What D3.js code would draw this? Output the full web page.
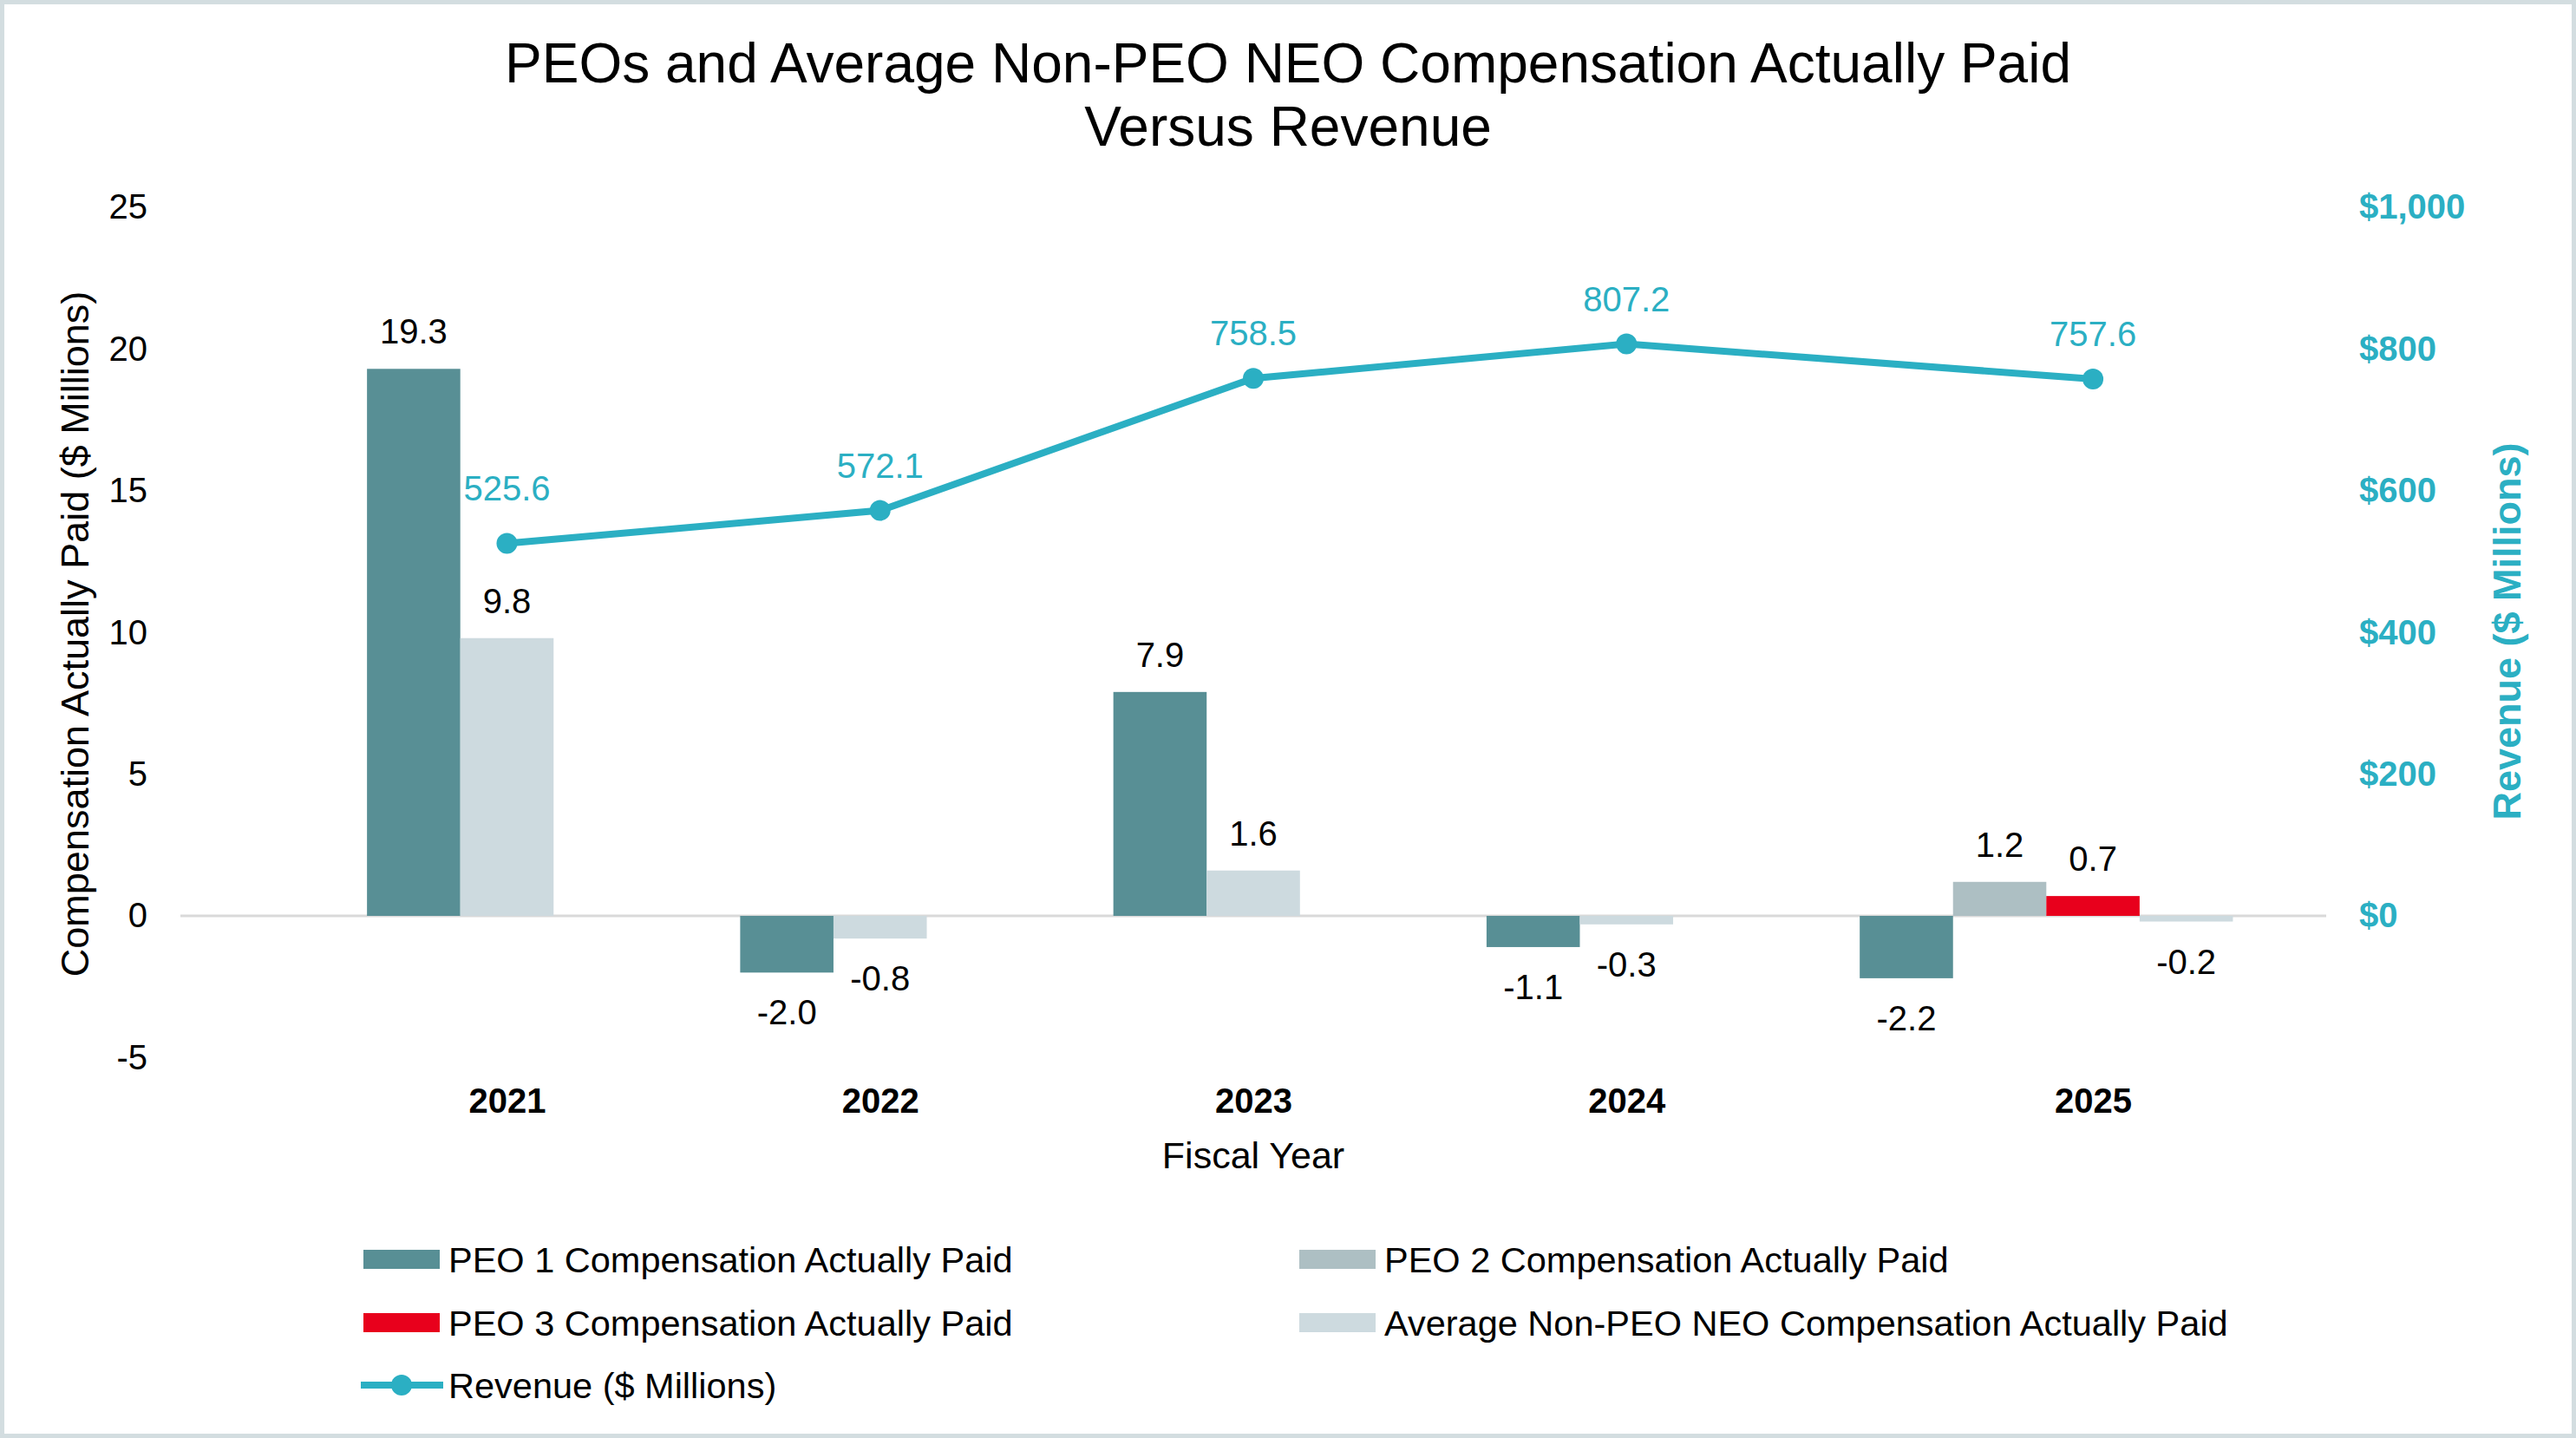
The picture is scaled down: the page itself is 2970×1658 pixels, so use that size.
<!DOCTYPE html>
<html>
<head>
<meta charset="utf-8">
<script src="https://cdn.jsdelivr.net/npm/d3@7"></script>
<style>
    body { margin: 0; background: #fff; }
    text { font-family: "Liberation Sans", Arial, sans-serif; }
</style>
</head>
<body>
<div id="chart"></div>
<script>
// Values
const years = ["2021", "2022", "2023", "2024", "2025"]
const peo1 = [19.3, -2.0, 7.9, -1.1, -2.2]
const peo2 = [null, null, null, null, 1.2]
const peo3 = [null, null, null, null, 0.7]
const nonPeo = [9.8, -0.8, 1.6, -0.3, -0.2]
const revenue = [525.6, 572.1, 758.5, 807.2, 757.6]

const compTicks = [-5, 0, 5, 10, 15, 20, 25]
const revenueTicks = [0, 200, 400, 600, 800, 1000]

const seriesNames = [
    "PEO 1 Compensation Actually Paid",
    "PEO 2 Compensation Actually Paid",
    "PEO 3 Compensation Actually Paid",
    "Average Non-PEO NEO Compensation Actually Paid"
]
const revenueName = "Revenue ($ Millions)"

const colours = ["#588f95", "#adbfc3", "#e8001c", "#cddadf"]
const lineColour = "#2bafc3"

drawChart()

function drawChart() {
    const width = 2970
    const height = 1658
    const left = 208, right = 2682

    const series = [peo1, peo2, peo3, nonPeo]

    let svg = d3.select("#chart")
        .append("svg")
        .attr("width", width)
        .attr("height", height)

    svg.append("rect")
        .attr("x", 2.5).attr("y", 2.5)
        .attr("width", width - 5).attr("height", height - 5)
        .attr("fill", "#fff")
        .attr("stroke", "#d3dde0")
        .attr("stroke-width", 5)

    // each year gets 4 bar slots, starting 2 slots in
    const groupStart = (i) => 2 + 4 * i
    const barsOf = (i) => series.map((s, k) => ({ k: k, v: s[i] })).filter(d => d.v !== null)
    const lastBars = barsOf(years.length - 1).length
    const slots = groupStart(years.length - 1) + lastBars + 1

    const x = d3.scaleLinear().domain([0, slots]).range([left, right])
    const slotW = x(1) - x(0)
    const centre = (i) => x(groupStart(i) + (barsOf(i).length + 1) / 2)

    const y = d3.scaleLinear().domain([-5, 25]).range([1219.4, 239])
    const yRev = d3.scaleLinear().domain([-200, 1000]).range([1219.4, 239])

    // title
    svg.append("text")
        .attr("x", width / 2).attr("y", 95)
        .attr("text-anchor", "middle")
        .style("font-size", "64px")
        .text("PEOs and Average Non-PEO NEO Compensation Actually Paid")
    svg.append("text")
        .attr("x", width / 2).attr("y", 168)
        .attr("text-anchor", "middle")
        .style("font-size", "64px")
        .text("Versus Revenue")

    // left axis
    let yAxis = svg.append("g")
        .attr("transform", "translate(" + left + ",0)")
        .call(d3.axisLeft(y).tickValues(compTicks).tickSize(0).tickPadding(38)
            .tickFormat(d => String(d)))
    yAxis.select(".domain").remove()
    yAxis.selectAll("text").style("font-size", "40px").attr("fill", "#000")
        .style("font-family", "'Liberation Sans', Arial, sans-serif")

    // right axis
    let rAxis = svg.append("g")
        .attr("transform", "translate(" + right + ",0)")
        .call(d3.axisRight(yRev).tickValues(revenueTicks).tickSize(0).tickPadding(38)
            .tickFormat(d => "$" + d3.format(",")(d)))
    rAxis.select(".domain").remove()
    rAxis.selectAll("text").style("font-size", "40px").style("font-weight", "bold")
        .attr("fill", lineColour)
        .style("font-family", "'Liberation Sans', Arial, sans-serif")

    svg.append("text")
        .attr("transform", "translate(86,731) rotate(-90)")
        .attr("text-anchor", "middle")
        .attr("dy", "0.35em")
        .style("font-size", "45px")
        .text("Compensation Actually Paid ($ Millions)")

    svg.append("text")
        .attr("transform", "translate(2890,728) rotate(-90)")
        .attr("text-anchor", "middle")
        .attr("dy", "0.35em")
        .style("font-size", "45px")
        .style("font-weight", "bold")
        .attr("fill", lineColour)
        .text(revenueName)

    // zero line
    svg.append("line")
        .attr("x1", left).attr("x2", right)
        .attr("y1", y(0)).attr("y2", y(0))
        .attr("stroke", "#d9d9d9")
        .attr("stroke-width", 3)

    // bars
    for (let i = 0; i < years.length; i++) {
        let bars = barsOf(i)
        let g = svg.append("g")
        g.selectAll("rect")
            .data(bars)
            .enter()
            .append("rect")
            .attr("x", (d, j) => x(groupStart(i) + j))
            .attr("width", slotW)
            .attr("y", d => y(Math.max(0, d.v)))
            .attr("height", d => Math.abs(y(d.v) - y(0)))
            .attr("fill", d => colours[d.k])

        g.selectAll("text")
            .data(bars)
            .enter()
            .append("text")
            .attr("x", (d, j) => x(groupStart(i) + j) + slotW / 2)
            .attr("y", d => d.v >= 0 ? y(d.v) - 43 : y(d.v) + 46)
            .attr("dy", "0.35em")
            .attr("text-anchor", "middle")
            .style("font-size", "40px")
            .text(d => d.v.toFixed(1))
    }

    // x labels
    const xLabel = d3.scaleOrdinal().domain(years).range(years.map((d, i) => centre(i)))
    let xAxis = svg.append("g")
        .attr("transform", "translate(0,1240)")
        .call(d3.axisBottom(xLabel).tickValues(years).tickSize(0).tickPadding(0))
    xAxis.select(".domain").remove()
    xAxis.selectAll("text")
        .attr("y", 43).attr("dy", "0")
        .style("font-size", "40px").style("font-weight", "bold").attr("fill", "#000")
        .style("font-family", "'Liberation Sans', Arial, sans-serif")

    svg.append("text")
        .attr("x", (left + right) / 2).attr("y", 1332)
        .attr("dy", "0.35em")
        .attr("text-anchor", "middle")
        .style("font-size", "43px")
        .text("Fiscal Year")

    // revenue line
    let line = d3.line()
        .x((d, i) => centre(i))
        .y(d => yRev(d))

    svg.append("path")
        .datum(revenue)
        .attr("d", line)
        .attr("fill", "none")
        .attr("stroke", lineColour)
        .attr("stroke-width", 8)

    svg.selectAll(".dot")
        .data(revenue)
        .enter()
        .append("circle")
        .attr("class", "dot")
        .attr("cx", (d, i) => centre(i))
        .attr("cy", d => yRev(d))
        .attr("r", 12)
        .attr("fill", lineColour)

    // first label sits higher to clear the bar label
    const lift = (i) => i === 0 ? 64 : 52
    svg.selectAll(".revLabel")
        .data(revenue)
        .enter()
        .append("text")
        .attr("class", "revLabel")
        .attr("x", (d, i) => centre(i))
        .attr("y", (d, i) => yRev(d) - lift(i))
        .attr("dy", "0.35em")
        .attr("text-anchor", "middle")
        .style("font-size", "40px")
        .attr("fill", lineColour)
        .text(d => d.toFixed(1))

    // legend
    const legendX = [419, 1498]
    const legendY = [1452, 1525, 1597]
    let legend = svg.append("g")
    seriesNames.forEach((name, k) => {
        let lx = legendX[k % 2]
        let ly = legendY[Math.floor(k / 2)]
        legend.append("rect")
            .attr("x", lx).attr("y", ly - 11)
            .attr("width", 88).attr("height", 22)
            .attr("fill", colours[k])
        legend.append("text")
            .attr("x", lx + 98).attr("y", ly)
            .attr("dy", "0.35em")
            .style("font-size", "41.5px")
            .text(name)
    })
    legend.append("line")
        .attr("x1", legendX[0] - 3).attr("x2", legendX[0] + 92)
        .attr("y1", legendY[2]).attr("y2", legendY[2])
        .attr("stroke", lineColour)
        .attr("stroke-width", 8)
    legend.append("circle")
        .attr("cx", legendX[0] + 44).attr("cy", legendY[2])
        .attr("r", 12)
        .attr("fill", lineColour)
    legend.append("text")
        .attr("x", legendX[0] + 98).attr("y", legendY[2])
        .attr("dy", "0.35em")
        .style("font-size", "41.5px")
        .text(revenueName)
}
</script>
</body>
</html>
